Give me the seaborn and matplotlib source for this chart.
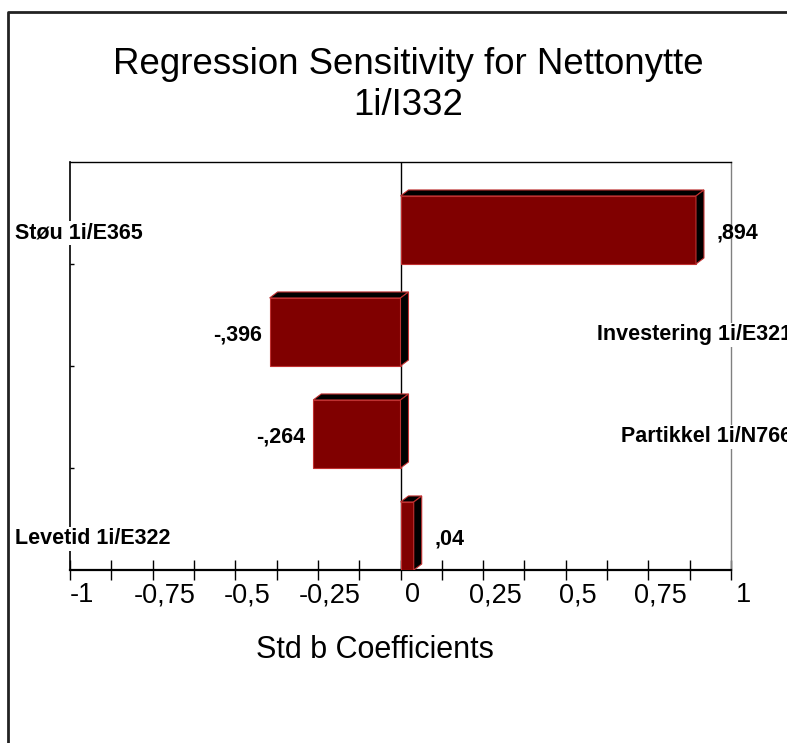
import numpy as np
import pandas as pd
import matplotlib
matplotlib.use("Agg")
import matplotlib.pyplot as plt
import seaborn as sns
from matplotlib.patches import Polygon
from matplotlib.lines import Line2D
from matplotlib.transforms import blended_transform_factory, ScaledTranslation

# ---- data ----
categories = ["Støu 1i/E365", "Investering 1i/E321", "Partikkel 1i/N766", "Levetid 1i/E322"]
coefficients = [0.894, -0.396, -0.264, 0.04]
tick_values = [-1, -0.75, -0.5, -0.25, 0, 0.25, 0.5, 0.75, 1]
tick_labels = ["-1", "-0,75", "-0,5", "-0,25", "0", "0,25", "0,5", "0,75", "1"]
title_lines = ["Regression Sensitivity for Nettonytte", "1i/I332"]
x_label = "Std b Coefficients"

sns.set_style("white")
plt.rcParams["font.family"] = ["Liberation Sans", "DejaVu Sans"]
plt.rcParams["text.color"] = "black"
plt.rcParams["xtick.color"] = "black"
plt.rcParams["ytick.color"] = "black"
plt.rcParams["axes.labelcolor"] = "black"

W, H, DPI = 787, 743, 100
fig = plt.figure(figsize=(W / DPI, H / DPI), dpi=DPI)
ax = fig.add_axes([70 / W, (H - 570) / H, (731 - 70) / W, (570 - 162) / H])

df = pd.DataFrame({"variable": categories, "coef": coefficients})
bar_w = 0.667
sns.barplot(data=df, x="coef", y="variable", orient="h", color="#800000",
            saturation=1, width=bar_w, edgecolor="#c03030", linewidth=0.8,
            ax=ax, zorder=3)

n = len(categories)
ax.set_xlim(tick_values[0], tick_values[-1])
ax.set_ylim(n - 1 + bar_w / 2, -1 + bar_w / 2)
ax.set_xlabel("")
ax.set_ylabel("")

# zero line
ax.axvline(0, color="black", lw=1, zorder=1)

# 3D depth faces derived from the seaborn bars
depth = np.array([8.0, 6.0])  # pixels right / up
inv = ax.transData.inverted()
for p in list(ax.patches):
    x0, w, y0, h = p.get_x(), p.get_width(), p.get_y(), p.get_height()
    left, right = min(x0, x0 + w), max(x0, x0 + w)
    top, bottom = min(y0, y0 + h), max(y0, y0 + h)
    TL = ax.transData.transform((left, top))
    TR = ax.transData.transform((right, top))
    BR = ax.transData.transform((right, bottom))
    topface = inv.transform([TL, TL + depth, TR + depth, TR])
    sideface = inv.transform([TR, TR + depth, BR + depth, BR])
    for verts in (topface, sideface):
        ax.add_patch(Polygon(verts, closed=True, facecolor="black",
                             edgecolor="#c03030", lw=0.8, zorder=3))

# spines
for s in ["top", "left", "bottom", "right"]:
    ax.spines[s].set_visible(True)
ax.spines["top"].set_color("black")
ax.spines["top"].set_linewidth(1)
ax.spines["right"].set_color("#808080")
ax.spines["right"].set_linewidth(1)
ax.spines["left"].set_color("black")
ax.spines["left"].set_linewidth(1.2)
ax.spines["bottom"].set_color("black")
ax.spines["bottom"].set_linewidth(1.6)

# x ticks
ax.set_xticks(tick_values)
ax.set_xticklabels(tick_labels, fontsize=19.5, color="black")
minor = [(a + b) / 2 for a, b in zip(tick_values[:-1], tick_values[1:])]
ax.set_xticks(minor, minor=True)
ax.tick_params(axis="x", which="both", direction="inout", length=14, width=1,
               color="black", pad=2, bottom=True)
shift = ScaledTranslation(12 / DPI, 0, fig.dpi_scale_trans)
for lbl in ax.get_xticklabels():
    lbl.set_transform(lbl.get_transform() + shift)

# y ticks at band boundaries (small inward ticks)
ax.set_yticks([i + bar_w / 2 for i in range(n - 1)])
ax.set_yticklabels([])
ax.tick_params(axis="y", which="both", direction="in", length=3, width=1,
               color="black", left=True, labelleft=False)

# category labels (opposite side of bar) and value labels
down = ScaledTranslation(0, -3 / DPI, fig.dpi_scale_trans)
lab_tr = blended_transform_factory(fig.transFigure, ax.transData) + down
box = dict(facecolor="white", edgecolor="none", pad=1)


def fmt(v):
    s = f"{v:.3f}".rstrip("0")
    return s.replace("0.", ",", 1)


for i, (cat, v) in enumerate(zip(categories, coefficients)):
    if v >= 0:
        ax.text(15 / W, i, cat, transform=lab_tr, ha="left", va="center",
                fontsize=15.5, fontweight="bold", color="black", bbox=box,
                zorder=6)
        off = ScaledTranslation(21 / DPI, -3 / DPI, fig.dpi_scale_trans)
        ax.text(v, i, fmt(v), transform=ax.transData + off, ha="left",
                va="center", fontsize=15.5, fontweight="bold", color="black")
    else:
        ax.text(792 / W, i, cat, transform=lab_tr, ha="right", va="center",
                fontsize=15.5, fontweight="bold", color="black", bbox=box,
                zorder=6)
        off = ScaledTranslation(-8 / DPI, -3 / DPI, fig.dpi_scale_trans)
        ax.text(v, i, fmt(v), transform=ax.transData + off, ha="right",
                va="center", fontsize=15.5, fontweight="bold", color="black")

# axis title and chart title
fig.text(375 / W, (H - 658) / H, x_label, ha="center", va="baseline",
         fontsize=22, color="black")
fig.text(408 / W, (H - 74) / H, title_lines[0], ha="center", va="baseline",
         fontsize=26.4, color="black")
fig.text(408 / W, (H - 115) / H, title_lines[1], ha="center", va="baseline",
         fontsize=26.4, color="black")

# figure frame (partially outside canvas)
fig.add_artist(Line2D([8 / W, 8 / W, 1.05], [-0.05, (H - 12) / H, (H - 12) / H],
                      transform=fig.transFigure, color="#222222", lw=2))

fig.savefig("out.png", dpi=DPI)
